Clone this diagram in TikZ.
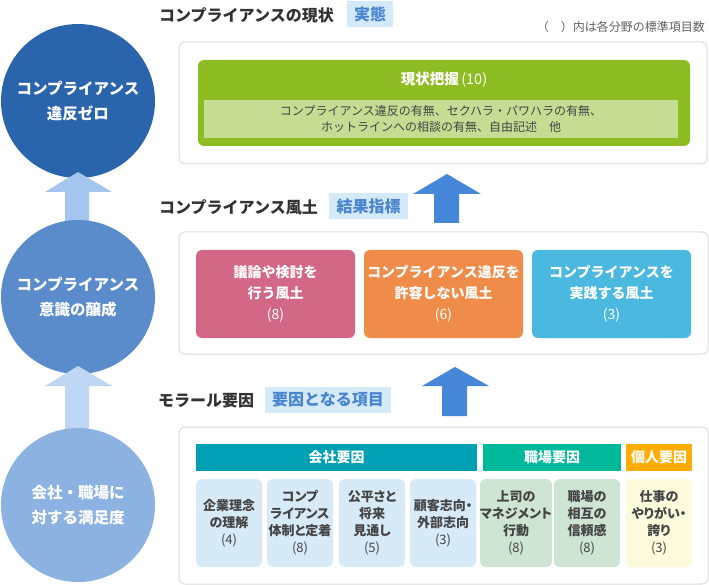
\documentclass[tikz,border=0pt]{standalone}
\usepackage{fontspec}
\setmainfont{Noto Sans CJK JP}
\newfontfamily\jpp{Noto Sans CJK JP}[RawFeature=+palt]
\definecolor{cA}{HTML}{2A64AD}
\definecolor{cB}{HTML}{5A8BCA}
\definecolor{cC}{HTML}{8BB2E0}
\definecolor{arA}{HTML}{A4C5ED}
\definecolor{arB}{HTML}{BFD7F4}
\definecolor{arBlue}{HTML}{4787DA}
\definecolor{bgray}{HTML}{DDDDDD}
\definecolor{tagbg}{HTML}{D5EAF9}
\definecolor{tagtx}{HTML}{4A86CF}
\definecolor{titx}{HTML}{333333}
\definecolor{gr}{HTML}{8DBD22}
\definecolor{grp}{HTML}{C5DC93}
\definecolor{pink}{HTML}{D36886}
\definecolor{orng}{HTML}{F08C4A}
\definecolor{sky}{HTML}{4BB8E0}
\definecolor{teal}{HTML}{00A0B4}
\definecolor{mint}{HTML}{00B89A}
\definecolor{amber}{HTML}{FFAD00}
\definecolor{sbA}{HTML}{D6EAF8}
\definecolor{sbB}{HTML}{CDE5D2}
\definecolor{sbC}{HTML}{FEFBDC}
\definecolor{stx}{HTML}{444444}
\begin{document}
\begin{tikzpicture}[x=1pt,y=-1pt,
  circ/.style={circle,minimum size=154pt,inner sep=0pt,text=white,align=center,
    font=\bfseries\fontsize{15.5}{24.5}\selectfont},
  panel/.style={draw=bgray,fill=white,rounded corners=6pt,line width=1pt},
  ttl/.style={anchor=west,text=titx,font=\bfseries\fontsize{16}{18}\selectfont,inner sep=0pt},
  tagbox/.style={fill=tagbg,text=tagtx,font=\bfseries\fontsize{16}{18}\selectfont,inner sep=0pt,minimum height=26pt},
  bigbox/.style={rounded corners=6pt,minimum width=159pt,minimum height=88pt,inner sep=0pt,text=white,align=center,
    font=\bfseries\fontsize{14}{21}\selectfont},
  hdr/.style={minimum height=27pt,inner sep=0pt,text=white,font=\bfseries\fontsize{14}{16}\selectfont},
  smbox/.style={rounded corners=6pt,minimum width=66pt,minimum height=88pt,inner sep=0pt,text=stx,align=center,
    font=\jpp\bfseries\fontsize{13}{17}\selectfont}
]
\useasboundingbox (0,0) rectangle (709,585);
\fill[white] (0,0) rectangle (709,585);

% circles and arrows
\node[circ,fill=cA] (c1) at (78,101) {コンプライアンス\\違反ゼロ};
\fill[arA] (78,172) -- (112,192) -- (89,192) -- (89,230) -- (65,230) -- (65,192) -- (45,192) -- cycle;
\node[circ,fill=cB] (c2) at (78,297) {コンプライアンス\\意識の醸成};
\fill[arB] (78,366) -- (112,386) -- (89,386) -- (89,435) -- (65,435) -- (65,386) -- (45,386) -- cycle;
\node[circ,fill=cC] (c3) at (78,505) {会社・職場に\\対する満足度};

% section 1
\node[ttl] (t1) at (159,15) {コンプライアンスの現状};
\node[tagbox,minimum width=46pt] (g1) at (370,14.5) {実態};
\node[anchor=east,text=stx!85,font=\fontsize{12}{14}\selectfont,inner sep=0pt] (note) at (705,27) {（　）内は各分野の標準項目数};
\draw[panel] (179,42) rectangle (707,164);
\node[fill=gr,rounded corners=6pt,minimum width=492pt,minimum height=86pt,inner sep=0pt] (gb) at (444,103) {};
\node[text=white,font=\bfseries\fontsize{14.5}{16}\selectfont] (gt) at (444,80) {現状把握\,{\mdseries (10)}};
\node[fill=grp,minimum width=474pt,minimum height=38pt,inner sep=0pt,text=stx,align=center,
  font=\fontsize{12}{16}\selectfont] (gp) at (441,119) {コンプライアンス違反の有無、セクハラ・パワハラの有無、\\ホットラインへの相談の有無、自由記述　他};

% arrow 1
\fill[arBlue] (447,174) -- (481,194) -- (459,194) -- (459,223) -- (434,223) -- (434,194) -- (413,194) -- cycle;

% section 2
\node[ttl] (t2) at (159,207) {コンプライアンス風土};
\node[tagbox,minimum width=79pt] (g2) at (368.5,206) {結果指標};
\draw[panel] (179,232) rectangle (708,354);
\node[bigbox,fill=pink] (b1) at (275.5,294) {議論や検討を\\行う風土\\{\mdseries (8)}};
\node[bigbox,fill=orng] (b2) at (443.5,294) {コンプライアンス違反を\\許容しない風土\\{\mdseries (6)}};
\node[bigbox,fill=sky] (b3) at (611.5,294) {コンプライアンスを\\実践する風土\\{\mdseries (3)}};

% arrow 2
\fill[arBlue] (455,367) -- (489,386) -- (467,386) -- (467,416) -- (442,416) -- (442,386) -- (422,386) -- cycle;

% section 3
\node[ttl] (t3) at (158,401) {モラール要因};
\node[tagbox,minimum width=126pt] (g3) at (328,399.5) {要因となる項目};
\draw[panel] (179,427) rectangle (708,584);
\node[hdr,fill=teal,minimum width=281pt] (h1) at (336.5,457.5) {会社要因};
\node[hdr,fill=mint,minimum width=138pt] (h2) at (552,457.5) {職場要因};
\node[hdr,fill=amber,minimum width=66pt] (h3) at (659,457.5) {個人要因};

\node[smbox,fill=sbA] (s1) at (229,523) {企業理念\\の理解\\{\mdseries (4)}};
\node[smbox,fill=sbA] (s2) at (300,523) {コンプ\\ライアンス\\体制と定着\\{\mdseries (8)}};
\node[smbox,fill=sbA] (s3) at (372,523) {公平さと\\将来\\見通し\\{\mdseries (5)}};
\node[smbox,fill=sbA] (s4) at (443,523) {顧客志向・\\外部志向\\{\mdseries (3)}};
\node[smbox,fill=sbB] (s5) at (516,523) {上司の\\マネジメント\\行動\\{\mdseries (8)}};
\node[smbox,fill=sbB] (s6) at (587,523) {職場の\\相互の\\信頼感\\{\mdseries (8)}};
\node[smbox,fill=sbC] (s7) at (659,523) {仕事の\\やりがい・\\誇り\\{\mdseries (3)}};
\end{tikzpicture}
\end{document}
